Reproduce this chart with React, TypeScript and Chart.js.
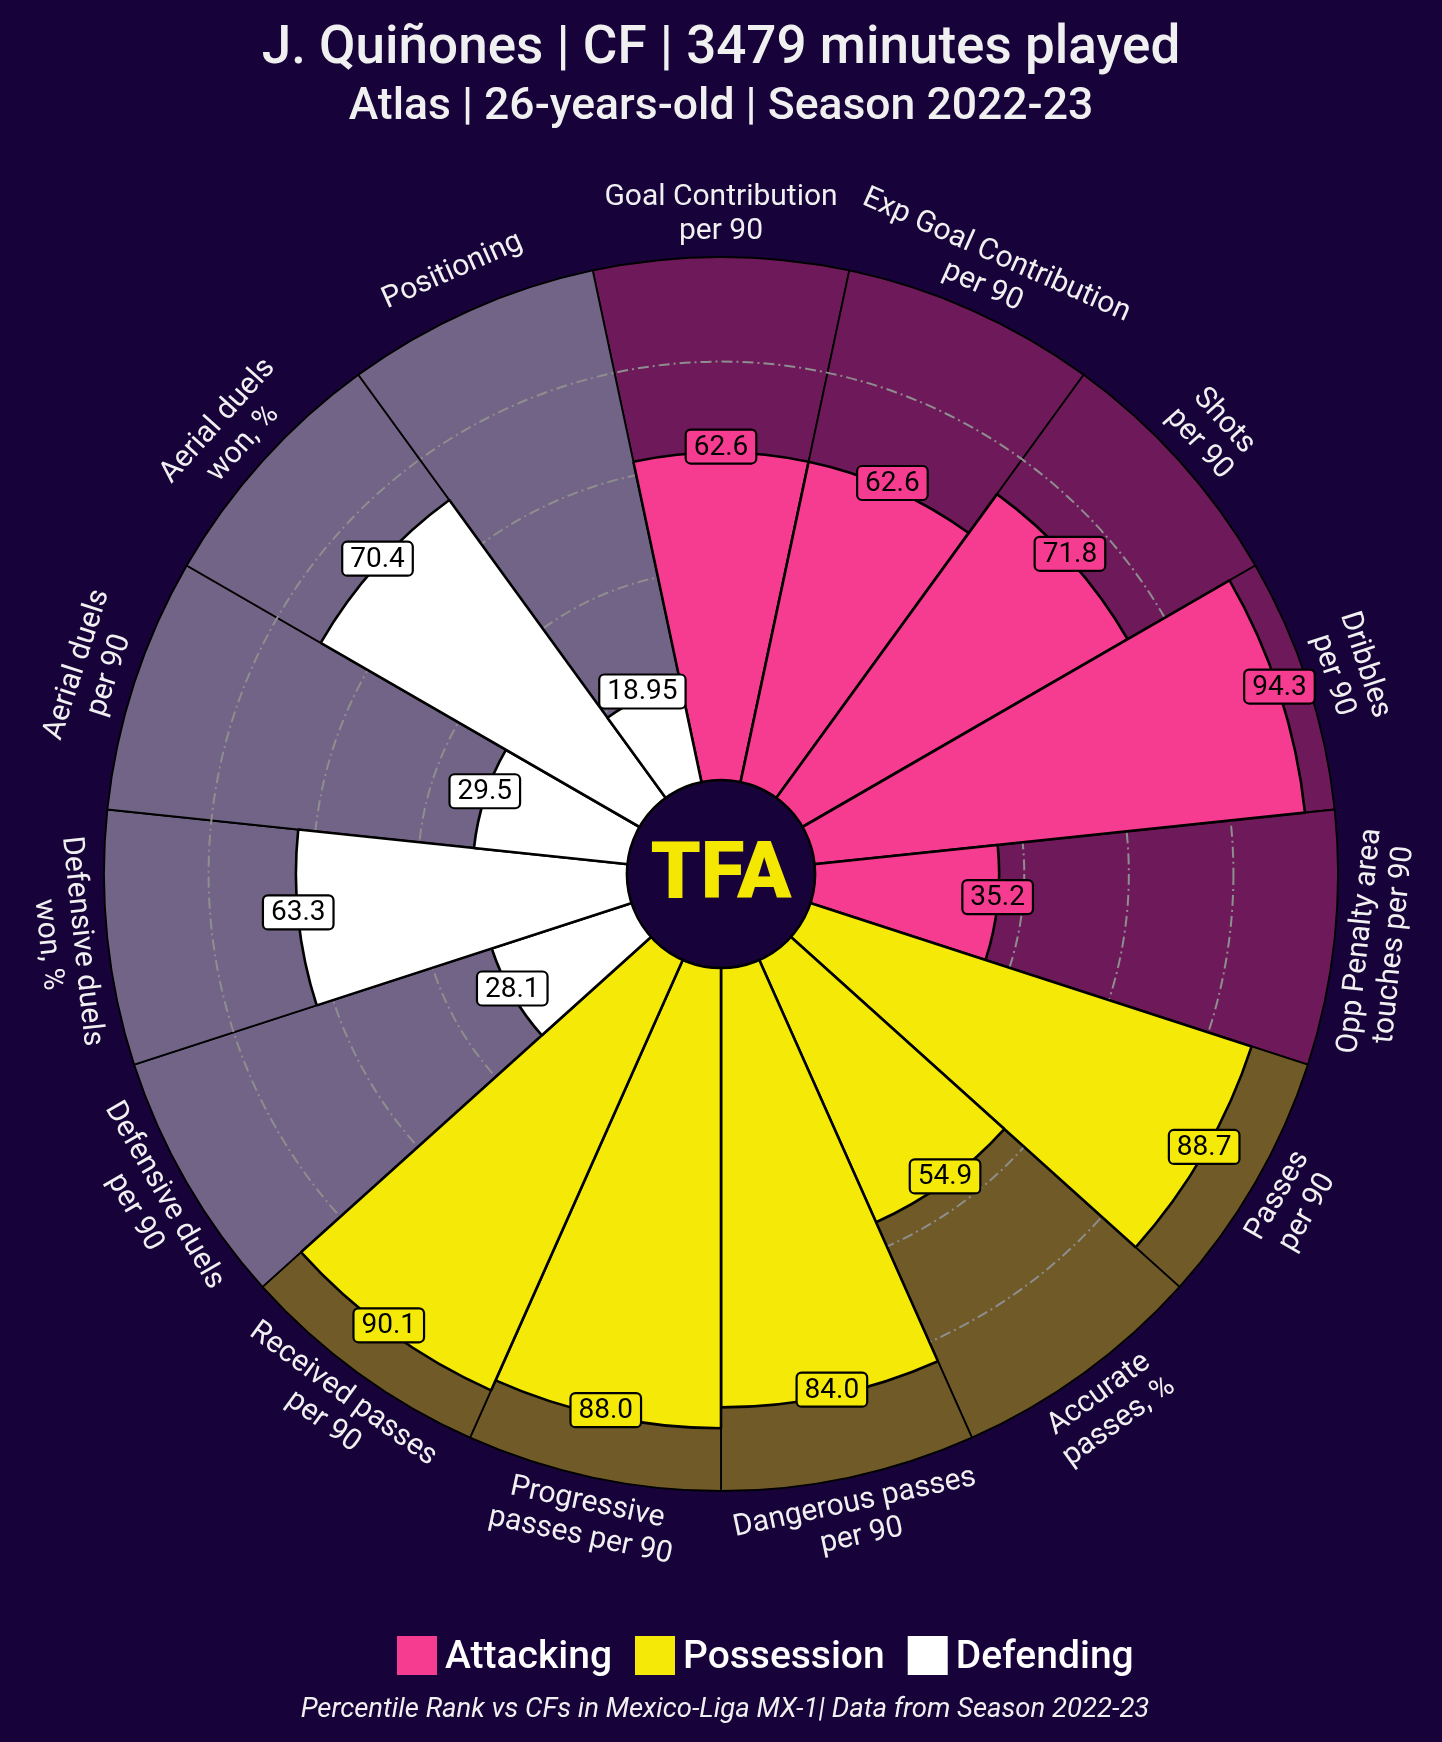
import React, { useEffect, useRef } from "react";
import { Chart, registerables } from "chart.js";

Chart.register(...registerables);

// ---------- data ----------
const titleText = "J. Quiñones | CF | 3479 minutes played";
const subtitleText = "Atlas | 26-years-old | Season 2022-23";
const footerText = "Percentile Rank vs CFs in Mexico-Liga MX-1| Data from Season 2022-23";

const attackingParams = [
  "Goal Contribution\nper 90",
  "Exp Goal Contribution\nper 90",
  "Shots\nper 90",
  "Dribbles\nper 90",
  "Opp Penalty area\ntouches per 90",
];
const attackingValues = [62.6, 62.6, 71.8, 94.3, 35.2];

const possessionParams = [
  "Passes\nper 90",
  "Accurate\npasses, %",
  "Dangerous passes\nper 90",
  "Progressive\npasses per 90",
  "Received passes\nper 90",
];
const possessionValues = [88.7, 54.9, 84.0, 88.0, 90.1];

const defendingParams = [
  "Defensive duels\nper 90",
  "Defensive duels\nwon, %",
  "Aerial duels\nper 90",
  "Aerial duels\nwon, %",
  "Positioning",
];
const defendingValues = [28.1, 63.3, 29.5, 70.4, 18.95];

const groupNames = ["Attacking", "Possession", "Defending"];
const backgroundValues = [100, 100, 100, 100, 100, 100, 100, 100, 100, 100, 100, 100, 100, 100, 100];
const gridValues = [20, 40, 60, 80];

// ---------- styles ----------
const PAGE_BG = "#17023a";
const sliceColors = ["#f63c90", "#f5ea07", "#ffffff"];
const sliceBgColors = ["#6e1a5a", "#6f5a28", "#716486"];
const TEXT = "#f0f0f0";
const FONT = "Roboto, 'Noto Sans', sans-serif";

const params = [...attackingParams, ...possessionParams, ...defendingParams];
const values = [...attackingValues, ...possessionValues, ...defendingValues];
const groupOf = [
  ...attackingParams.map(() => 0),
  ...possessionParams.map(() => 1),
  ...defendingParams.map(() => 2),
];
const fgColors = groupOf.map((g) => sliceColors[g]);
const bgColors = groupOf.map((g) => sliceBgColors[g]);

const fmt = (v: number) =>
  Math.abs(Math.round(v * 10) - v * 10) < 1e-6 ? v.toFixed(1) : String(v);

const pizzaPlugin = {
  id: "pizza",
  afterDatasetDraw(chart: any, args: any) {
    if (args.index !== 1) return;
    const s = chart.scales.r;
    const ctx = chart.ctx;
    ctx.save();
    ctx.setLineDash([11, 4, 2, 4]);
    ctx.strokeStyle = "#8e8e8e";
    ctx.lineWidth = 2;
    gridValues.forEach((v) => {
      const r = s.getDistanceFromCenterForValue(v);
      ctx.beginPath();
      ctx.arc(s.xCenter, s.yCenter, r, 0, Math.PI * 2);
      ctx.stroke();
    });
    ctx.restore();
  },
  afterDatasetsDraw(chart: any) {
    const s = chart.scales.r;
    const ctx = chart.ctx;
    const cx = s.xCenter;
    const cy = s.yCenter;
    const meta = chart.getDatasetMeta(0);
    const r0 = s.getDistanceFromCenterForValue(0);

    // centre logo
    ctx.save();
    ctx.beginPath();
    ctx.arc(cx, cy, r0, 0, Math.PI * 2);
    ctx.fillStyle = PAGE_BG;
    ctx.fill();
    ctx.lineWidth = 2.5;
    ctx.strokeStyle = "#000000";
    ctx.stroke();
    ctx.fillStyle = "#f5e800";
    ctx.font = `900 80px ${FONT}`;
    ctx.textAlign = "center";
    ctx.textBaseline = "middle";
    ctx.fillText("TFA", cx, cy + 4);
    ctx.restore();

    // parameter labels
    const labelR = s.drawingArea + 43;
    ctx.save();
    ctx.font = `400 30px ${FONT}`;
    ctx.fillStyle = TEXT;
    ctx.textAlign = "center";
    ctx.textBaseline = "middle";
    meta.data.forEach((arc: any, i: number) => {
      const { startAngle, endAngle } = arc.getProps(["startAngle", "endAngle"], true);
      const mid = (startAngle + endAngle) / 2;
      let theta = mid + Math.PI / 2;
      theta = ((theta % (Math.PI * 2)) + Math.PI * 2) % (Math.PI * 2);
      const rot = theta > Math.PI / 2 && theta < (Math.PI * 3) / 2 ? theta - Math.PI : theta;
      const x = cx + labelR * Math.cos(mid);
      const y = cy + labelR * Math.sin(mid);
      const lines = params[i].split("\n");
      ctx.save();
      ctx.translate(x, y);
      ctx.rotate(rot);
      lines.forEach((ln, j) => {
        ctx.fillText(ln, 0, (j - (lines.length - 1) / 2) * 34);
      });
      ctx.restore();
    });
    ctx.restore();

    // value labels
    ctx.save();
    ctx.font = `400 28px ${FONT}`;
    ctx.textAlign = "center";
    ctx.textBaseline = "middle";
    meta.data.forEach((arc: any, i: number) => {
      const { startAngle, endAngle } = arc.getProps(["startAngle", "endAngle"], true);
      const mid = (startAngle + endAngle) / 2;
      const r = s.getDistanceFromCenterForValue(values[i]);
      const x = cx + r * Math.cos(mid);
      const y = cy + r * Math.sin(mid) - 6;
      const txt = fmt(values[i]);
      const w = ctx.measureText(txt).width + 16;
      const h = 34;
      ctx.beginPath();
      ctx.roundRect(x - w / 2, y - h / 2, w, h, 5);
      ctx.fillStyle = fgColors[i];
      ctx.fill();
      ctx.lineWidth = 2.2;
      ctx.strokeStyle = "#000000";
      ctx.stroke();
      ctx.fillStyle = "#000000";
      ctx.fillText(txt, x, y + 1);
    });
    ctx.restore();
  },
  afterDraw(chart: any) {
    const ctx = chart.ctx;
    ctx.save();
    // legend
    ctx.font = `500 39px ${FONT}`;
    ctx.textBaseline = "middle";
    ctx.textAlign = "left";
    let x = 397;
    const ly = 1656;
    groupNames.forEach((name, g) => {
      ctx.fillStyle = sliceColors[g];
      ctx.fillRect(x, ly - 20, 40, 39);
      x += 48;
      ctx.fillStyle = "#ffffff";
      ctx.fillText(name, x, ly + 2);
      x += ctx.measureText(name).width + 23;
    });
    // footer
    ctx.font = `italic 400 27.5px ${FONT}`;
    ctx.textAlign = "center";
    ctx.fillStyle = TEXT;
    ctx.fillText(footerText, 725, 1710);
    ctx.restore();
  },
};

export default function App() {
  const ref = useRef<HTMLCanvasElement>(null);
  useEffect(() => {
    const canvas = ref.current;
    if (!canvas) return;
    const chart = new Chart(canvas, {
      type: "polarArea",
      data: {
        labels: params,
        datasets: [
          {
            label: "Percentile",
            data: values,
            backgroundColor: fgColors,
            borderColor: "#000000",
            borderWidth: 2.6,
            order: 1,
          },
          {
            label: "Range",
            data: backgroundValues,
            backgroundColor: bgColors,
            borderColor: "#000000",
            borderWidth: 1.8,
            order: 2,
          },
        ],
      },
      options: {
        responsive: false,
        animation: false,
        devicePixelRatio: 1,
        layout: { padding: { top: 0, bottom: 251, left: 0, right: 0 } },
        scales: {
          r: {
            display: false,
            min: -18,
            max: 100,
            startAngle: -12,
            ticks: { display: false },
            grid: { display: false },
            angleLines: { display: false },
            pointLabels: { display: false },
          },
        },
        plugins: {
          legend: { display: false },
          tooltip: { enabled: false },
          title: {
            display: true,
            text: titleText,
            color: TEXT,
            font: { family: FONT, size: 53, weight: "500" },
            padding: { top: 18, bottom: 0 },
          },
          subtitle: {
            display: true,
            text: subtitleText,
            color: TEXT,
            font: { family: FONT, size: 44.5, weight: "500" },
            padding: { top: 0, bottom: 122 },
          },
        },
      },
      plugins: [pizzaPlugin],
    });
    return () => chart.destroy();
  }, []);

  return (
    <div
      style={{
        position: "absolute",
        left: 0,
        top: 0,
        width: 1442,
        height: 1742,
        background: PAGE_BG,
      }}
    >
      <canvas ref={ref} width={1442} height={1742} style={{ display: "block" }} />
    </div>
  );
}
